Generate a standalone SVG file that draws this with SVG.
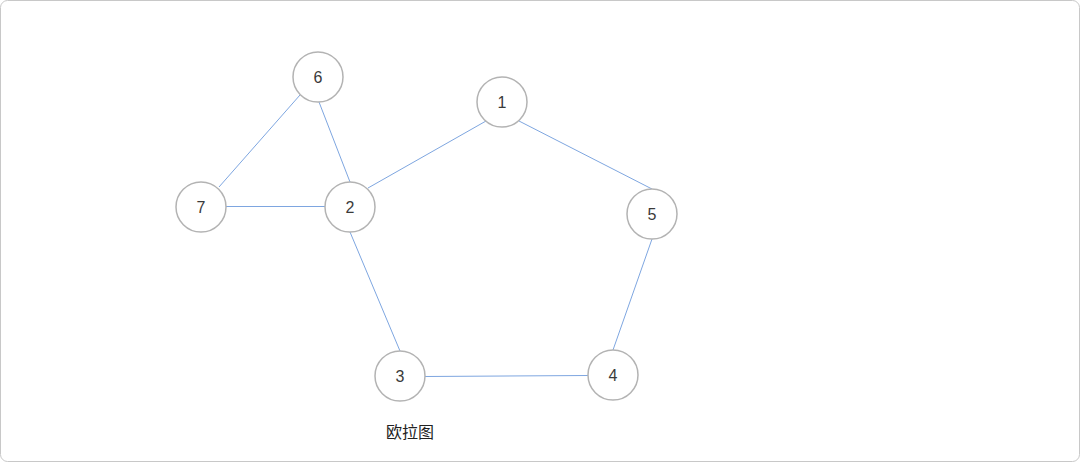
<svg xmlns="http://www.w3.org/2000/svg" width="1080" height="462" viewBox="0 0 1080 462">
<style>
.node circle{fill:#fff;stroke:#b3b3b3;stroke-width:1.5}
.node text{font-family:"Liberation Sans",Arial,sans-serif;font-size:16px;fill:#3a3a3a;text-anchor:middle;dominant-baseline:central}
#edges line{stroke:#7ea6e0;stroke-width:1}
.lbl{font-family:"Liberation Sans","Noto Sans CJK SC",sans-serif;font-size:16px;fill:#222;text-anchor:middle}
</style>
<rect x="0.5" y="0.5" width="1079" height="461" rx="7" fill="#fff" stroke="#c8c8c8" stroke-width="1"/>
<g id="edges">
<line x1="300" y1="95" x2="219" y2="187"/>
<line x1="319" y1="102" x2="350" y2="182"/>
<line x1="226" y1="206.5" x2="325" y2="206.5"/>
<line x1="486" y1="121" x2="368" y2="188"/>
<line x1="519" y1="121" x2="652" y2="189"/>
<line x1="350" y1="232" x2="400" y2="351"/>
<line x1="425" y1="376.5" x2="588" y2="375.5"/>
<line x1="613" y1="350" x2="652" y2="239"/>
</g>
<g id="n6" class="node"><circle cx="318" cy="77" r="25"/><text x="318" y="77">6</text></g>
<g id="n7" class="node"><circle cx="201" cy="207" r="25"/><text x="201" y="207">7</text></g>
<g id="n2" class="node"><circle cx="350" cy="207" r="25"/><text x="350" y="207">2</text></g>
<g id="n1" class="node"><circle cx="502" cy="102" r="25"/><text x="502" y="102">1</text></g>
<g id="n5" class="node"><circle cx="652" cy="214" r="25"/><text x="652" y="214">5</text></g>
<g id="n3" class="node"><circle cx="400" cy="376" r="25"/><text x="400" y="376">3</text></g>
<g id="n4" class="node"><circle cx="613" cy="375" r="25"/><text x="613" y="375">4</text></g>
<text class="lbl" x="410" y="438">欧拉图</text>
</svg>
